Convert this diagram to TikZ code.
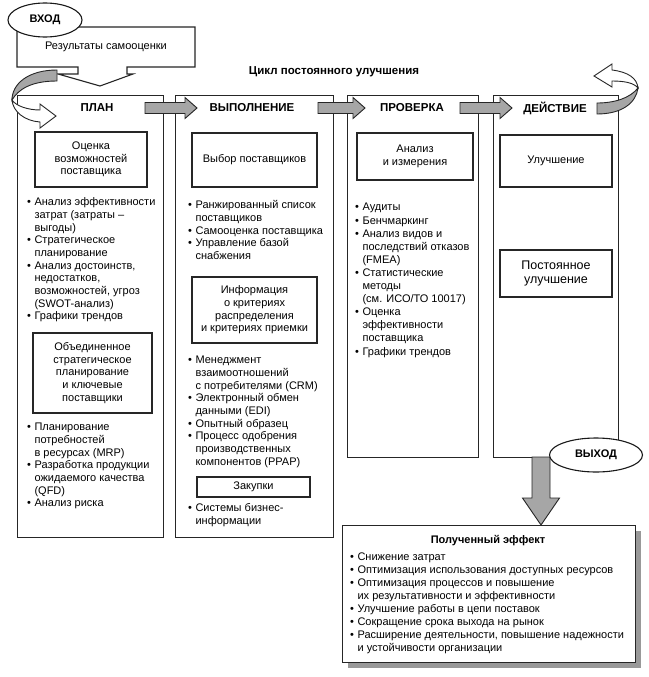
\documentclass[tikz,border=0pt]{standalone}
\usepackage{fontspec}
\setmainfont{Liberation Sans}
\usetikzlibrary{shapes.geometric,calc,shadows}
\newcommand\blst[1]{\begin{tabular}{@{}l@{\hspace{3.5pt}}l@{}}#1\end{tabular}}
\newcommand\bu{\textbullet}
\newcommand\harrow[2]{\draw[blk] ($(#1)+(0,-5.5)$) -- ($(#2)+(-12,-5.5)$) -- ($(#2)+(-12,-10.5)$) -- (#2)
  -- ($(#2)+(-12,10.5)$) -- ($(#2)+(-12,5.5)$) -- ($(#1)+(0,5.5)$) -- cycle;}
\begin{document}
\begin{tikzpicture}[x=1pt,y=-1pt,
  col/.style={draw=black!85, line width=1.1pt, fill=white, anchor=north west, inner sep=0pt},
  ibox/.style={draw=black!85, line width=1.1pt, fill=white, align=center, inner sep=0pt, font=\fontsize{11}{12.6}\selectfont},
  hdr/.style={inner sep=0pt, font=\bfseries\fontsize{11.5}{13}\selectfont},
  lst/.style={anchor=north west, inner sep=0pt, align=left, font=\fontsize{11}{12.7}\selectfont},
  blk/.style={draw=black!85, line width=0.9pt, fill=black!35, line join=miter},
  oval/.style={ellipse, draw=black!90, line width=1.1pt, fill=white, inner sep=0pt,
    font=\bfseries\fontsize{11}{12}\selectfont},
  ribbon/.style={draw=black!85, line width=0.9pt}
]
\useasboundingbox (0,0) rectangle (648,677);
\fill[white] (0,0) rectangle (648,677);

% input callout
\draw[ribbon, line width=1.1pt, fill=white] (17,27) -- (195,27) -- (195,67) -- (127,67) -- (127,74) -- (133,74)
  -- (100,86) -- (58,74) -- (78,74) -- (78,67) -- (17,67) -- cycle;
\node[inner sep=0pt, font=\fontsize{11}{12}\selectfont] (selfev) at (106,47) {Результаты самооценки};
\node[oval, minimum width=74pt, minimum height=34pt] (vhod) at (45,20) {ВХОД};

\node[inner sep=0pt, font=\bfseries\fontsize{11.5}{13}\selectfont] (title) at (334,72) {Цикл постоянного улучшения};

% columns
\node[col, minimum width=146pt, minimum height=442pt] (plan) at (17,95) {};
\node[col, minimum width=158pt, minimum height=442pt] (do) at (175,95) {};
\node[col, minimum width=131pt, minimum height=362pt] (check) at (347,95) {};
\node[col, minimum width=125pt, minimum height=362pt] (act) at (493,95) {};

% arrows between columns
\coordinate (a1s) at (145,108); \coordinate (a1e) at (197,108);
\coordinate (a2s) at (318,108); \coordinate (a2e) at (365,108);
\coordinate (a3s) at (460,108); \coordinate (a3e) at (512,108);
\harrow{a1s}{a1e}
\harrow{a2s}{a2e}
\harrow{a3s}{a3e}

% headers
\node[hdr] (hplan) at (97,108) {ПЛАН};
\node[hdr] (hdo) at (252,108) {ВЫПОЛНЕНИЕ};
\node[hdr] (hcheck) at (412,108) {ПРОВЕРКА};
\node[hdr] (hact) at (555,108) {ДЕЙСТВИЕ};

% left curved arrow
\draw[ribbon, fill=black!35] (57,70) .. controls (28,70) and (12,84) .. (12,100)
  .. controls (18,90) and (30,81) .. (57,81) -- cycle;
\draw[ribbon, fill=white] (12,100) .. controls (13,112) and (25,121) .. (40,122) -- (40,128) -- (56,116)
  -- (40,104) -- (40,110) .. controls (28,110) and (16,106) .. (12,100) -- cycle;

% right curved arrow
\draw[ribbon, fill=black!35] (597,103) -- (597,114) .. controls (622,114) and (636,103) .. (638,88)
  .. controls (630,98) and (615,103) .. (597,103) -- cycle;
\draw[ribbon, fill=white] (638,88) .. controls (637,78) and (628,72) .. (612,70) -- (612,64) -- (594,76)
  -- (612,87) -- (612,81) .. controls (625,81) and (634,83) .. (638,88) -- cycle;

% PLAN content
\node[ibox, minimum width=112pt, minimum height=55pt] (b1) at (91,159.5) {Оценка\\возможностей\\поставщика};
\node[lst] (l1) at (27,196.6) {\blst{\bu & Анализ эффективности\\ & затрат (затраты –\\ & выгоды)\\
  \bu & Стратегическое\\ & планирование\\ \bu & Анализ достоинств,\\ & недостатков,\\ & возможностей, угроз\\
  & (SWOT-анализ)\\ \bu & Графики трендов}};
\node[ibox, minimum width=119pt, minimum height=80pt] (b2) at (92.5,373) {Объединенное\\стратегическое\\планирование\\и ключевые\\поставщики};
\node[lst] (l2) at (27,421.6) {\blst{\bu & Планирование\\ & потребностей\\ & в ресурсах (MRP)\\
  \bu & Разработка продукции\\ & ожидаемого качества\\ & (QFD)\\ \bu & Анализ риска}};

% DO content
\node[ibox, minimum width=125pt, minimum height=54pt] (b3) at (254.5,160) {Выбор поставщиков};
\node[lst] (l3) at (188,199.6) {\blst{\bu & Ранжированный список\\ & поставщиков\\ \bu & Самооценка поставщика\\
  \bu & Управление базой\\ & снабжения}};
\node[ibox, minimum width=125pt, minimum height=66pt] (b4) at (254.5,310) {Информация\\о критериях\\распределения\\и критериях приемки};
\node[lst] (l4) at (188,354.6) {\blst{\bu & Менеджмент\\ & взаимоотношений\\ & с потребителями (CRM)\\
  \bu & Электронный обмен\\ & данными (EDI)\\ \bu & Опытный образец\\ \bu & Процесс одобрения\\
  & производственных\\ & компонентов (PPAP)}};
\node[ibox, minimum width=113pt, minimum height=20pt] (b5) at (253.5,487) {Закупки};
\node[lst] (l5) at (188,502.6) {\blst{\bu & Системы бизнес-\\ & информации}};

% CHECK content
\node[ibox, minimum width=116pt, minimum height=47pt] (b6) at (415,156.5) {Анализ\\и измерения};
\node[lst, font=\fontsize{11}{13.1}\selectfont] (l6) at (355,201.6) {\blst{\bu & Аудиты\\ \bu & Бенчмаркинг\\
  \bu & Анализ видов и\\ & последствий отказов\\ & (FMEA)\\ \bu & Статистические\\ & методы\\
  & (см. ИСО/ТО 10017)\\ \bu & Оценка\\ & эффективности\\ & поставщика\\ \bu & Графики трендов}};

% ACT content
\node[ibox, minimum width=112pt, minimum height=52pt] (b7) at (556,161) {Улучшение};
\node[ibox, minimum width=112pt, minimum height=47pt, font=\fontsize{12.5}{14}\selectfont] (b8) at (556,273.5) {Постоянное\\улучшение};

% output arrow
\coordinate (ds) at (541,457); \coordinate (de) at (541,525);
\draw[blk] ($(ds)+(-9,0)$) -- ($(de)+(-9,-27)$) -- ($(de)+(-18.5,-27)$) -- (de) -- ($(de)+(18.5,-27)$)
  -- ($(de)+(9,-27)$) -- ($(ds)+(9,0)$) -- cycle;
\node[oval, minimum width=93pt, minimum height=34pt] (vyhod) at (596,455) {ВЫХОД};

\node[draw=black!85, line width=1.1pt, fill=white, anchor=north west, inner sep=0pt,
  minimum width=293pt, minimum height=137pt,
  drop shadow={shadow xshift=5pt, shadow yshift=-5pt, fill=black!40, opacity=1}] (res) at (342,525) {};
\node[inner sep=0pt, font=\bfseries\fontsize{11}{12}\selectfont] (restitle) at (488,541) {Полученный эффект};
\node[lst, font=\fontsize{11}{13}\selectfont] (l7) at (350,551.6) {\blst{\bu & Снижение затрат\\
  \bu & Оптимизация использования доступных ресурсов\\
  \bu & Оптимизация процессов и повышение\\ & их результативности и эффективности\\
  \bu & Улучшение работы в цепи поставок\\ \bu & Сокращение срока выхода на рынок\\
  \bu & Расширение деятельности, повышение надежности\\ & и устойчивости организации}};
\end{tikzpicture}
\end{document}
